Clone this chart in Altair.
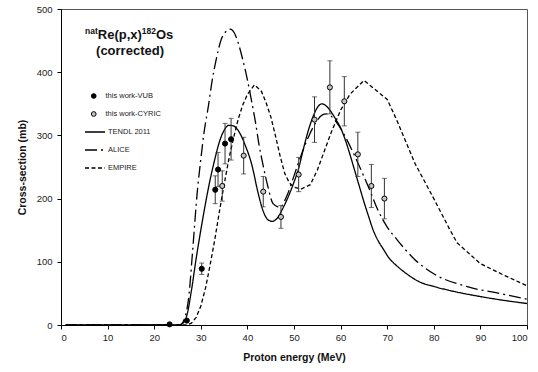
import altair as alt
import pandas as pd

FONT = "Liberation Sans, Arial, sans-serif"

# ---- model curves ----
tendl_E = [1, 25, 26, 27, 28, 29, 30, 31, 32, 33, 34, 35, 36, 37, 38, 39.5, 41, 42.2, 43.3, 44.5,
           45.3, 46.5, 47.5, 49, 50, 51, 52, 53, 54, 55, 56, 57, 58, 59, 60, 61, 62, 63, 64, 65,
           66, 67, 68, 69, 70.5, 72, 74, 77, 80, 85, 90, 95, 100]
tendl_S = [0, 0, 2, 15, 55, 105, 150, 192, 230, 262, 290, 308, 316, 315, 308, 285, 252, 212, 182, 166,
           164, 170, 183, 207, 226, 248, 278, 306, 328, 344, 350, 346, 337, 325, 312, 293, 270, 245, 220, 195,
           172, 150, 134, 122, 105, 94, 82, 68, 61, 52, 45, 39, 34]

alice_E = [1, 25.5, 26.5, 27.5, 28.2, 29.3, 30, 30.7, 31.6, 32.4, 33.3, 34.4, 35.5, 36.3, 37.2, 38,
           39, 40, 40.8, 41.8, 42.5, 43.3, 44.4, 45.5, 47, 48.5, 50, 51.5, 53, 54.5, 56, 57, 59,
           61, 63, 65, 66, 68, 70, 72, 76, 80, 87, 94, 100]
alice_S = [0, 0, 10, 50, 113, 215, 262, 305, 345, 385, 420, 452, 465, 468, 462, 447,
           420, 388, 358, 318, 285, 255, 219, 192, 186, 205, 236, 268, 296, 318, 332, 334, 322,
           298, 268, 235, 218, 182, 155, 136, 103, 81, 61, 50, 41]

empire_E = [1, 27, 28, 29, 30, 31, 32, 33, 34, 35, 36, 37, 38, 39, 40, 41.5, 43, 44, 45, 46, 47, 48,
            49, 50, 51.5, 53.5, 55, 56.5, 58, 60, 62, 65, 70, 72, 76, 80, 83.5, 85, 90, 95, 100]
empire_S = [0, 0, 3, 12, 30, 58, 95, 135, 180, 222, 262, 295, 325, 348, 365, 380, 370, 352, 330, 300, 268, 240,
            225, 218, 215, 222, 245, 275, 305, 340, 365, 387, 357, 325, 255, 200, 150, 130, 97, 79, 62]

series_names = ["TENDL 2011", "ALICE", "EMPIRE"]
series_dash = [[1, 0], [12, 4, 2, 4], [4, 2.5]]

# ---- measurements ----
vub_E = [23.3, 27.0, 30.2, 33.1, 33.7, 35.2, 36.5]
vub_S = [1, 7, 89, 214, 246, 287, 294]
vub_err = [0, 0, 9, 22, 27, 32, 33]

cyr_E = [34.6, 39.2, 43.4, 47.2, 51.0, 54.4, 57.7, 60.8, 63.7, 66.6, 69.4]
cyr_S = [220, 268, 211, 171, 238, 325, 376, 354, 270, 220, 200]
cyr_err = [24, 29, 24, 18, 27, 36, 42, 39, 35, 34, 32]

point_names = ["this work-VUB", "this work-CYRIC"]

x_ticks = list(range(0, 101, 10))
y_ticks = list(range(0, 501, 100))

title_parts = ["nat", "Re(p,x)", "182", "Os"]
title_line2 = "(corrected)"

# ---- tables ----
lines_df = pd.concat([
    pd.DataFrame({"E": tendl_E, "S": tendl_S, "series": series_names[0]}),
    pd.DataFrame({"E": alice_E, "S": alice_S, "series": series_names[1]}),
    pd.DataFrame({"E": empire_E, "S": empire_S, "series": series_names[2]}),
], ignore_index=True)

pts_df = pd.concat([
    pd.DataFrame({"E": vub_E, "S": vub_S, "err": vub_err, "grp": point_names[0]}),
    pd.DataFrame({"E": cyr_E, "S": cyr_S, "err": cyr_err, "grp": point_names[1]}),
], ignore_index=True)

xenc = alt.X("E:Q", scale=alt.Scale(domain=[0, 100], nice=False),
             axis=alt.Axis(values=x_ticks, title="Proton energy (MeV)", grid=False,
                           tickSize=4, labelPadding=3, titlePadding=11,
                           labelFontSize=9.5, titleFontSize=10.5, titleFontWeight="bold",
                           labelFont=FONT, titleFont=FONT, labelColor="#222", titleColor="#111",
                           domainColor="black", tickColor="black"))
yenc = alt.Y("S:Q", scale=alt.Scale(domain=[0, 500], nice=False),
             axis=alt.Axis(values=y_ticks, title="Cross-section (mb)", grid=False,
                           tickSize=4, labelPadding=5, titlePadding=9,
                           labelFontSize=9.5, titleFontSize=10.5, titleFontWeight="bold",
                           labelFont=FONT, titleFont=FONT, labelColor="#222", titleColor="#111",
                           domainColor="black", tickColor="black"))

dash_legend = alt.Legend(title=None, orient="none", legendX=23, legendY=114, symbolType="stroke",
                         symbolSize=400, symbolStrokeColor="black", symbolStrokeWidth=1.3,
                         labelFontSize=7.5, labelFont=FONT, labelColor="#222", labelOffset=2,
                         clipHeight=18, rowPadding=0, padding=0)
dash_enc = alt.StrokeDash("series:N", scale=alt.Scale(domain=series_names, range=series_dash),
                          legend=dash_legend)

base_lines = alt.Chart(lines_df)
smooth = base_lines.transform_filter(alt.datum.series != "EMPIRE").mark_line(
    interpolate="monotone", color="black", strokeWidth=1.3).encode(x=xenc, y=yenc, strokeDash=dash_enc)
straight = base_lines.transform_filter(alt.datum.series == "EMPIRE").mark_line(
    color="black", strokeWidth=1.3).encode(x=xenc, y=yenc, strokeDash=dash_enc)

err_base = alt.Chart(pts_df).transform_filter(alt.datum.err > 0).transform_calculate(
    lo="datum.S - datum.err", hi="datum.S + datum.err")
err_rule = err_base.mark_rule(color="#333", strokeWidth=1).encode(
    x="E:Q", y="lo:Q", y2="hi:Q")
cap_lo = err_base.mark_tick(orient="horizontal", size=5, thickness=1, color="#333").encode(
    x="E:Q", y="lo:Q")
cap_hi = err_base.mark_tick(orient="horizontal", size=5, thickness=1, color="#333").encode(
    x="E:Q", y="hi:Q")

pts_legend = alt.Legend(title=None, orient="none", legendX=29, legendY=78, symbolType="circle",
                        symbolSize=22, symbolStrokeColor="black", symbolStrokeWidth=1,
                        labelFontSize=7.5, labelFont=FONT, labelColor="#222", labelOffset=8,
                        clipHeight=18, rowPadding=0, padding=0)
points = alt.Chart(pts_df).mark_point(shape="circle", filled=True, size=26, stroke="black",
                                      strokeWidth=1, opacity=1).encode(
    x="E:Q", y="S:Q",
    fill=alt.Fill("grp:N", scale=alt.Scale(domain=point_names, range=["black", "#c4c4c4"]),
                  legend=pts_legend))

# ---- title annotation ----
def txt(s, x, y, size, align="left"):
    return alt.Chart(pd.DataFrame({"t": [s]})).mark_text(
        font=FONT, fontSize=size, fontWeight="bold", color="#111", align=align,
        baseline="alphabetic").encode(x=alt.value(x), y=alt.value(y), text="t:N")

title = (txt(title_parts[0], 24, 25, 8.5) + txt(title_parts[1], 36.8, 30, 13) +
         txt(title_parts[2], 80.8, 25, 8.5) + txt(title_parts[3], 95, 30, 13) +
         txt(title_line2, 69, 46, 13, align="center"))

chart = alt.layer(smooth, straight, err_rule, cap_lo, cap_hi, points, title).resolve_scale(
    strokeDash="shared").properties(
    width=466, height=316,
    autosize=alt.AutoSizeParams(type="none"),
    padding={"left": 61, "top": 9, "right": 11, "bottom": 47},
    background="white",
).configure_view(stroke="#555", strokeWidth=1)

chart.save("out.html", embed_options={"renderer": "svg", "actions": False})
